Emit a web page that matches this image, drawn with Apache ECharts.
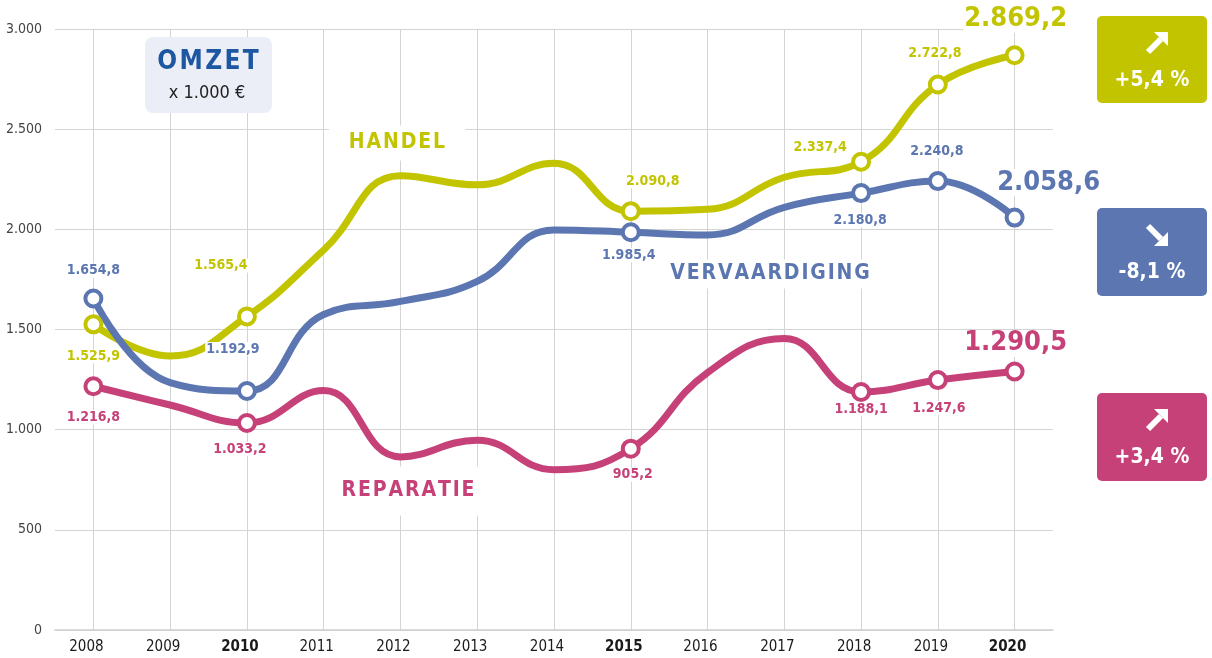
<!DOCTYPE html>
<html>
<head>
<meta charset="utf-8">
<script src="https://cdn.jsdelivr.net/npm/echarts@6/dist/echarts.min.js"></script>
<style>
  html, body { margin: 0; padding: 0; background: #fff; }
  #main { width: 1212px; height: 658px; }
</style>
</head>
<body>
<div id="main"></div>
<script>
// jaren en omzet (x 1.000 euro)
var years = ['2008', '2009', '2010', '2011', '2012', '2013', '2014', '2015', '2016', '2017', '2018', '2019', '2020'];
var boldYears = ['2010', '2015', '2020'];
var handel = [1525.9, 1368, 1565.4, 1897, 2268, 2222, 2330, 2090.8, 2100, 2260, 2337.4, 2722.8, 2869.2];
var vervaardiging = [1654.8, 1235, 1192.9, 1575, 1640, 1740, 1997, 1985.4, 1972, 2110, 2180.8, 2240.8, 2058.6];
var reparatie = [1216.8, 1123, 1033.2, 1195, 864, 947, 800, 905.2, 1285, 1455, 1188.1, 1247.6, 1290.5];
var markedYears = ['2008', '2010', '2015', '2018', '2019', '2020'];
var changes = ['+5,4 %', '-8,1 %', '+3,4 %'];

var FONT = "'DejaVu Sans Condensed', 'Liberation Sans Narrow', sans-serif";
var C_HANDEL = '#c3c400';
var C_VERV = '#5b76b0';
var C_REP = '#c64178';

function nl(v, dec) {
    var parts = v.toFixed(dec).split('.');
    parts[0] = parts[0].replace(/\B(?=(\d{3})+(?!\d))/g, '.');
    return parts.join(',');
}

// label offsets (label centre minus point) per marked year
var offsets = {
    handel: {'2008': [0, 32], '2010': [-26, -51], '2015': [22, -30], '2018': [-41, -14], '2019': [-3, -31], '2020': [1, -36]},
    verv: {'2008': [0, -28], '2010': [-14, -42], '2015': [-2, 23], '2018': [-1, 27], '2019': [-1, -30], '2020': [34, -35]},
    rep: {'2008': [0, 31], '2010': [-7, 26], '2015': [2, 26], '2018': [0, 17], '2019': [1, 28], '2020': [1, -28]}
};

function buildData(values, key) {
    return values.map(function (v, i) {
        var y = years[i];
        if (markedYears.indexOf(y) < 0) {
            return {value: v, symbol: 'none'};
        }
        var big = y === '2020';
        return {
            value: v,
            symbol: 'circle',
            label: {
                show: true,
                offset: offsets[key][y],
                fontSize: big ? 27 : 14
            }
        };
    });
}

function makeSeries(name, values, key, color) {
    return {
        name: name,
        type: 'line',
        smooth: 0.45,
        data: buildData(values, key),
        symbolSize: 16,
        lineStyle: {color: color, width: 7},
        itemStyle: {color: '#fff', borderColor: color, borderWidth: 4},
        label: {
            show: false,
            position: 'inside',
            color: color,
            fontFamily: FONT,
            fontWeight: 'bold',
            backgroundColor: '#fff',
            padding: [0, 1],
            formatter: function (p) { return nl(p.value, 1); }
        },
        emphasis: {disabled: true}
    };
}

function spaced(s) {
    return s.split('').join('\u200A');
}

function arrow(cx, cy, up) {
    var s = up ? -1 : 1;
    return [
        {type: 'line', z: 30, x: cx, y: cy, shape: {x1: -9, y1: -9 * s, x2: 4, y2: 4 * s},
         style: {stroke: '#fff', lineWidth: 6}},
        {type: 'polygon', z: 30, x: cx, y: cy, shape: {points: [[11, 11 * s], [11, -3 * s], [-3, 11 * s]]},
         style: {fill: '#fff'}}
    ];
}

function badge(top, h, color, text, up) {
    return [
        {type: 'rect', z: 10, shape: {x: 1097, y: top, width: 110, height: h, r: 5}, style: {fill: color}}
    ].concat(arrow(1157, top + 27, up)).concat([
        {type: 'text', z: 30, style: {x: 1152, y: top + 65, text: text, fill: '#fff', font: 'bold 21px ' + FONT,
            textAlign: 'center', textVerticalAlign: 'middle'}}
    ]);
}

var chart = echarts.init(document.getElementById('main'));

var option = {
    animation: false,
    grid: {left: 55, right: 159, top: 29, bottom: 28},
    xAxis: {
        type: 'category',
        data: years.map(function (y) {
            return boldYears.indexOf(y) >= 0 ? {value: y, textStyle: {fontWeight: 'bold'}} : y;
        }),
        boundaryGap: true,
        axisLine: {lineStyle: {color: '#cfcfcf', width: 1.5}},
        axisTick: {show: false},
        axisLabel: {color: '#1a1a1a', fontSize: 15, fontFamily: FONT, margin: 10, padding: [0, 14, 0, 0]},
        splitLine: {show: true, alignWithLabel: true, lineStyle: {color: '#d4d4d4', width: 1}}
    },
    yAxis: {
        type: 'value',
        min: 0,
        max: 3000,
        interval: 500,
        axisLine: {show: false},
        axisTick: {show: false},
        axisLabel: {color: '#444', fontSize: 14, fontFamily: FONT, margin: 13,
            formatter: function (v) { return nl(v, 0); }},
        splitLine: {lineStyle: {color: '#d4d4d4', width: 1}}
    },
    series: [
        makeSeries('Handel', handel, 'handel', C_HANDEL),
        makeSeries('Vervaardiging', vervaardiging, 'verv', C_VERV),
        makeSeries('Reparatie', reparatie, 'rep', C_REP)
    ],
    graphic: [
        {type: 'rect', z: 10, shape: {x: 145, y: 37, width: 127, height: 76, r: 8}, style: {fill: '#eceef7'}},
        {type: 'text', z: 11, style: {x: 208, y: 62, text: spaced('OMZET'), fill: '#1d56a1', font: 'bold 26px ' + FONT,
            textAlign: 'center', textVerticalAlign: 'middle'}},
        {type: 'text', z: 11, style: {x: 207, y: 93, text: 'x 1.000 €', fill: '#222', font: '18px ' + FONT,
            textAlign: 'center', textVerticalAlign: 'middle'}},
        {type: 'text', z: 11, style: {x: 397, y: 143, text: spaced('HANDEL'), fill: C_HANDEL, font: 'bold 21px ' + FONT,
            textAlign: 'center', textVerticalAlign: 'middle', backgroundColor: '#fff', padding: [7, 20]}},
        {type: 'text', z: 11, style: {x: 770, y: 274, text: spaced('VERVAARDIGING'), fill: C_VERV, font: 'bold 21px ' + FONT,
            textAlign: 'center', textVerticalAlign: 'middle', backgroundColor: '#fff', padding: [4, 6]}},
        {type: 'text', z: 11, style: {x: 408, y: 491, text: spaced('REPARATIE'), fill: C_REP, font: 'bold 21px ' + FONT,
            textAlign: 'center', textVerticalAlign: 'middle', backgroundColor: '#fff', padding: [14, 8]}}
    ]
        .concat(badge(16, 87, C_HANDEL, changes[0], true))
        .concat(badge(208, 88, C_VERV, changes[1], false))
        .concat(badge(393, 88, C_REP, changes[2], true))
};

chart.setOption(option);
</script>
</body>
</html>
